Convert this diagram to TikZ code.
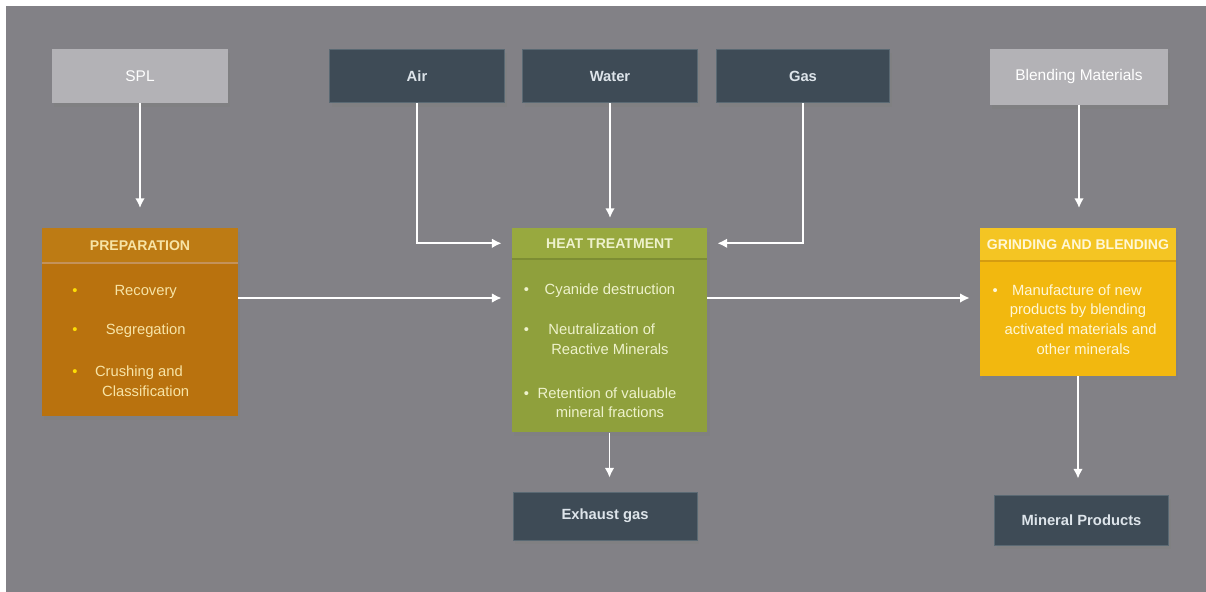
\documentclass[tikz,border=0pt]{standalone}
\usepackage{fontspec}
\setmainfont{Liberation Sans}
\usepackage{array}
\usepackage{xcolor}
\usetikzlibrary{positioning,shadows,arrows.meta}
\definecolor{bggrey}{HTML}{828186}
\definecolor{litegrey}{HTML}{B3B2B6}
\definecolor{slate}{HTML}{3E4B56}
\definecolor{slateedge}{HTML}{5A6973}
\definecolor{slatetext}{HTML}{DDE4EA}
\definecolor{prephead}{HTML}{BD7B14}
\definecolor{prepbody}{HTML}{B9720E}
\definecolor{preptext}{HTML}{F7E4A6}
\definecolor{prepsep}{HTML}{C4925A}
\definecolor{heathead}{HTML}{98A93F}
\definecolor{heatbody}{HTML}{8FA03C}
\definecolor{heattext}{HTML}{EEF2CC}
\definecolor{heatsep}{HTML}{7D8D33}
\definecolor{grindhead}{HTML}{F4C523}
\definecolor{grindbody}{HTML}{F2B80F}
\definecolor{grindtext}{HTML}{FFF7D6}
\definecolor{grindsep}{HTML}{D59C10}
\newcolumntype{C}[1]{>{\centering\arraybackslash}p{#1}}
\newcommand{\bulx}[1]{\textcolor{#1}{\textbullet}}
\newcommand{\rowgap}[1]{\noalign{\vskip #1}}
\tikzset{
  blk/.style={rectangle,inner sep=2pt,align=center,minimum height=1.33cm,
    drop shadow={opacity=0.5,shadow xshift=0.6mm,shadow yshift=-1mm}},
  lite/.style={blk,fill=litegrey,text=white,font=\fontsize{11}{13}\selectfont},
  dark/.style={blk,fill=slate,draw=slateedge,line width=0.6pt,text=slatetext,font=\bfseries\fontsize{10.5}{13}\selectfont},
  stg/.style={rectangle,anchor=north,minimum width=4.9cm,inner sep=0pt,
    drop shadow={opacity=0.5,shadow xshift=0.6mm,shadow yshift=-1mm}},
  hd/.style={rectangle,anchor=north,inner sep=0pt,font=\bfseries\fontsize{10}{12}\selectfont},
  lst/.style={anchor=north,inner sep=0pt,font=\fontsize{10.5}{14}\selectfont},
  flw/.style={draw=white,line width=1.3pt,-{Latex[length=2.4mm,width=2.4mm]}},
}

\begin{document}
\begin{tikzpicture}[x=0.025cm,y=-0.025cm]
        \useasboundingbox (0,0) rectangle (1206,592);
        \fill[bggrey] (6,6) rectangle (1206,592);

        % inputs
        \node[lite,minimum width=4.4cm] (spl) at (140,76) {SPL};
        \node[dark,minimum width=4.38cm] (air) at (417,76) {Air};
        \node[dark,minimum width=4.38cm] (water) at (610,76) {Water};
        \node[dark,minimum width=4.33cm] (gas) at (803,76) {Gas};
        \node[lite,minimum width=4.45cm,minimum height=1.38cm] (blend) at (1079,77) {Blending Materials};

        % preparation
        \node[stg,fill=prepbody,minimum height=4.68cm] (prep) at (140,228) {};
        \node[hd,fill=prephead,text=preptext,minimum width=4.9cm,minimum height=0.85cm] (prephd) at (prep.north) {PREPARATION};
        \draw[prepsep,line width=1.5pt] (prephd.south west) -- (prephd.south east);
        \node[lst,text=preptext] (preplist) at (141,281) {%
          \begin{tabular}{@{}l@{\hspace{3pt}}C{3.2cm}@{}}
          \bulx{yellow!80!orange} & Recovery\\ \rowgap{14pt}
          \bulx{yellow!80!orange} & Segregation\\ \rowgap{16pt}
          \bulx{yellow!80!orange} & Crushing and\newline Classification
          \end{tabular}};

        % heat treatment
        \node[stg,fill=heatbody,minimum width=4.88cm,minimum height=5.1cm] (heat) at (609.5,228) {};
        \node[hd,fill=heathead,text=heattext,minimum width=4.88cm,minimum height=0.75cm] (heathd) at (heat.north) {HEAT TREATMENT};
        \draw[heatsep,line width=1.5pt] (heathd.south west) -- (heathd.south east);
        \node[lst,text=heattext] (heatlist) at (606,280) {%
          \begin{tabular}{@{}l@{\hspace{2pt}}C{3.9cm}@{}}
          \bulx{heattext} & Cyanide destruction\\ \rowgap{15pt}
          \bulx{heattext} & Neutralization of\newline Reactive Minerals\\ \rowgap{17pt}
          \bulx{heattext} & Retention of valuable\newline mineral fractions
          \end{tabular}};

        % grinding and blending
        \node[stg,fill=grindbody,minimum height=3.68cm] (grind) at (1078,228) {};
        \node[hd,fill=grindhead,text=grindtext,minimum width=4.9cm,minimum height=0.8cm] (grindhd) at (grind.north) {GRINDING AND BLENDING};
        \draw[grindsep,line width=1.5pt] (grindhd.south west) -- (grindhd.south east);
        \node[lst,text=grindtext] (grindlist) at (1080,281) {%
          \begin{tabular}{@{}l@{\hspace{1pt}}C{4.2cm}@{}}
          \bulx{grindtext} & Manufacture of new\newline products by blending\newline activated materials and\newline other minerals
          \end{tabular}};

        % outputs
        \node[dark,minimum width=4.6cm,minimum height=1.2cm] (exhaust) at (605,516) {Exhaust gas};
        \node[dark,minimum width=4.33cm,minimum height=1.25cm] (mineral) at (1081.5,520) {Mineral Products};

        \coordinate (lvl) at (0,298);

        \draw[flw,shorten >=5mm] (spl) -- (prep);
        \draw[flw,shorten >=2.5mm] (air) |- (heathd);
        \draw[flw,shorten >=2.5mm] (water) -- (water.south |- heathd.north);
        \draw[flw,shorten >=2.5mm] (gas) |- (heathd);
        \draw[flw,shorten >=5mm] (blend.south) -- (blend.south |- grindhd.north);
        \draw[flw,shorten >=2.5mm] (prep.east |- lvl) -- (heat.west |- lvl);
        \draw[flw,shorten >=2.5mm] (heat.east |- lvl) -- (grind.west |- lvl);
        \draw[flw,shorten >=3.5mm] (heat.south) -- (heat.south |- exhaust.north);
        \draw[flw,shorten >=4mm] (grind.south) -- (grind.south |- mineral.north);
    \end{tikzpicture}
\end{document}
